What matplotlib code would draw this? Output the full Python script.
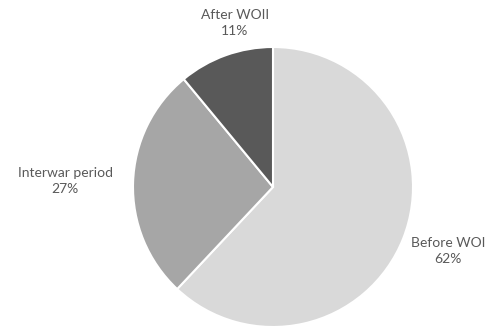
import matplotlib.pyplot as plt

periods = ['Before WOI', 'Interwar period', 'After WOII']
shares = [62, 27, 11]
colors = ['#d9d9d9', '#a6a6a6', '#595959']

# label anchor points in pixel space (x, y from bottom)
label_pos = [(448, 76), (65, 146), (235, 304)]

fig = plt.figure(figsize=(4.94, 3.27), dpi=100)
ax = fig.add_axes([0, 0, 1, 1])

ax.pie(shares, colors=colors, startangle=90, counterclock=False,
       center=(273, 140), radius=140,
       wedgeprops=dict(edgecolor='white', linewidth=1.5))

# pie() resets the view, so fix the pixel frame afterwards
ax.set_xlim(0, 494)
ax.set_ylim(0, 327)
ax.set_aspect('equal')
ax.axis('off')

for name, val, (x, y) in zip(periods, shares, label_pos):
    ax.text(x, y, f'{name}\n{val}%', ha='center', va='center',
            fontsize=10, color='#595959', family='Lato', linespacing=1.45)

fig.savefig('out.png', dpi=100)
